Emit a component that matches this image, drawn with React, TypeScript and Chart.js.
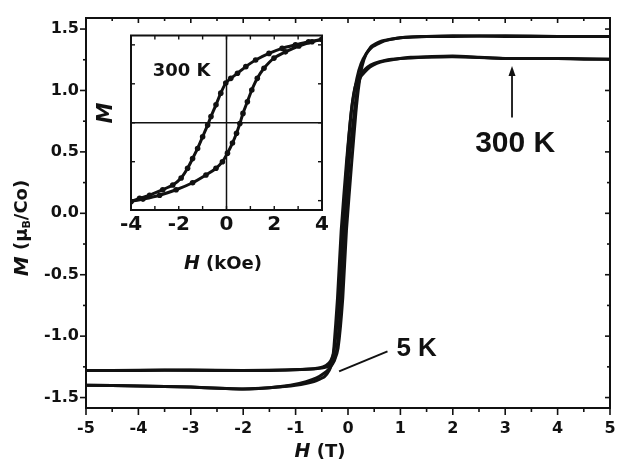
import React, { useEffect, useRef } from 'react';
import { Chart, registerables } from 'chart.js';
Chart.register(...registerables);

// ---------- main panel: H (T) vs M (μB/Co) ----------
const H_5K_DOWN = [5, 4, 3, 2, 1.4, 1.0, 0.75, 0.6, 0.45, 0.35, 0.25, 0.17, 0.07, -0.03, -0.13, -0.2, -0.27, -0.31, -0.36, -0.45, -0.65, -1.0, -1.5, -2, -2.5, -3, -4, -5];
const M_5K_DOWN = [1.44, 1.44, 1.445, 1.44, 1.44, 1.43, 1.41, 1.385, 1.35, 1.3, 1.22, 1.1, 0.85, 0.41, -0.14, -0.69, -1.1, -1.22, -1.28, -1.33, -1.37, -1.4, -1.42, -1.43, -1.425, -1.415, -1.405, -1.4];
const H_5K_UP = [-5, -4, -3, -2, -1.5, -1.1, -0.8, -0.6, -0.45, -0.35, -0.26, -0.19, -0.1, -0.03, 0.07, 0.15, 0.21, 0.27, 0.35, 0.45, 0.62, 1.0, 1.5, 2, 3, 4, 5];
const M_5K_UP = [-1.4, -1.405, -1.415, -1.43, -1.42, -1.4, -1.37, -1.34, -1.3, -1.26, -1.2, -1.1, -0.69, -0.14, 0.41, 0.82, 1.05, 1.2, 1.3, 1.36, 1.4, 1.43, 1.44, 1.445, 1.44, 1.44, 1.44];
const H_300K_DOWN = [5, 4.5, 4, 3.5, 3, 2.5, 2, 1.5, 1.2, 0.9, 0.7, 0.55, 0.42, 0.32, 0.24, 0.19, 0.12, 0.02, -0.06, -0.13, -0.21, -0.27, -0.35, -0.5, -0.8, -1.5, -2.5, -3.5, -4.5, -5];
const M_300K_DOWN = [1.255, 1.255, 1.26, 1.26, 1.26, 1.27, 1.28, 1.275, 1.27, 1.255, 1.24, 1.22, 1.19, 1.15, 1.11, 1.04, 0.82, 0.41, -0.14, -0.69, -1.1, -1.2, -1.24, -1.26, -1.27, -1.28, -1.28, -1.275, -1.28, -1.28];
const H_300K_UP = [-5, -4, -3, -2, -1.2, -0.8, -0.55, -0.42, -0.33, -0.27, -0.17, -0.1, -0.02, 0.06, 0.13, 0.2, 0.28, 0.37, 0.5, 0.7, 1.0, 1.5, 2, 3, 4, 5];
const M_300K_UP = [-1.28, -1.28, -1.275, -1.28, -1.275, -1.27, -1.26, -1.24, -1.2, -1.13, -0.69, -0.14, 0.41, 0.82, 1.02, 1.1, 1.15, 1.19, 1.22, 1.245, 1.26, 1.27, 1.275, 1.26, 1.26, 1.255];

// ---------- inset: H (kOe) vs M at 300 K ----------
const H_IN_DOWN = [4.0, 3.44, 2.89, 2.33, 1.78, 1.22, 0.81, 0.46, 0.18, -0.03, -0.24, -0.44, -0.65, -0.79, -1.0, -1.21, -1.42, -1.63, -1.9, -2.25, -2.67, -3.22, -3.64, -4.0];
const M_IN_DOWN = [1.07, 1.04, 1.0, 0.955, 0.89, 0.805, 0.72, 0.635, 0.57, 0.51, 0.38, 0.23, 0.08, -0.03, -0.18, -0.33, -0.46, -0.585, -0.71, -0.8, -0.86, -0.93, -0.97, -1.01];
const H_IN_UP = [-4.0, -3.5, -2.8, -2.11, -1.42, -0.86, -0.44, -0.17, 0.04, 0.25, 0.42, 0.56, 0.69, 0.875, 1.06, 1.29, 1.57, 1.99, 2.47, 3.03, 3.58, 4.0];
const M_IN_UP = [-1.01, -0.98, -0.93, -0.86, -0.77, -0.67, -0.585, -0.5, -0.39, -0.26, -0.135, -0.01, 0.12, 0.27, 0.42, 0.57, 0.7, 0.83, 0.91, 0.985, 1.04, 1.07];

// ---------- ticks ----------
const X_TICKS = [-5, -4, -3, -2, -1, 0, 1, 2, 3, 4, 5];
const X_MINOR = [-4.5, -3.5, -2.5, -1.5, -0.5, 0.5, 1.5, 2.5, 3.5, 4.5];
const Y_TICKS = [-1.5, -1.0, -0.5, 0.0, 0.5, 1.0, 1.5];
const Y_MINOR = [-1.25, -0.75, -0.25, 0.25, 0.75, 1.25];
const INSET_X_LABELS = [-4, -2, 0, 2, 4];
const INSET_X_MINOR = [-3, -1, 1, 3];
const INSET_Y_TICKS = [-1, -0.5, 0, 0.5, 1];

// ---------- annotations (data coordinates) ----------
const ARROW_300K = { h: 3.13, m1: 0.78, m2: 1.2 };
const LABEL_300K = { h: 3.19, m: 0.567, text: '300 K' };
const LABEL_5K = { h: 1.31, m: -1.1, text: '5 K' };
const LEADER_5K = { h1: 0.754, m1: -1.124, h2: -0.17, m2: -1.287 };
const INSET_LABEL = { h: -1.88, m: 0.66, text: '300 K' };

const INK = '#111';
const FONT = 'DejaVu Sans';

const zip = (hs: number[], ms: number[]) => hs.map((h, i) => ({ x: h, y: ms[i] }));

function drawRich(ctx: CanvasRenderingContext2D, parts: { text: string; font: string; dy?: number }[], cx: number, cy: number, rot: number) {
  ctx.save();
  ctx.translate(cx, cy);
  ctx.rotate(rot);
  let total = 0;
  parts.forEach((p) => { ctx.font = p.font; total += ctx.measureText(p.text).width; });
  let x = -total / 2;
  ctx.textBaseline = 'middle';
  ctx.textAlign = 'left';
  ctx.fillStyle = INK;
  parts.forEach((p) => {
    ctx.font = p.font;
    ctx.fillText(p.text, x, p.dy || 0);
    x += ctx.measureText(p.text).width;
  });
  ctx.restore();
}

const mainDecor = {
  id: 'mainDecor',
  afterDatasetsDraw(chart: any) {
    const { ctx, chartArea: a, scales } = chart;
    const xs = scales.x, ys = scales.y;
    ctx.save();
    ctx.strokeStyle = INK;
    ctx.fillStyle = INK;
    ctx.lineWidth = 2;
    ctx.strokeRect(a.left, a.top, a.right - a.left, a.bottom - a.top);
    const seg = (x1: number, y1: number, x2: number, y2: number) => {
      ctx.beginPath(); ctx.moveTo(x1, y1); ctx.lineTo(x2, y2); ctx.stroke();
    };
    ctx.lineWidth = 1.6;
    X_TICKS.forEach((v) => { const p = xs.getPixelForValue(v); seg(p, a.bottom, p, a.bottom + 7); seg(p, a.top, p, a.top + 5); });
    X_MINOR.forEach((v) => { const p = xs.getPixelForValue(v); seg(p, a.bottom, p, a.bottom + 4); seg(p, a.top, p, a.top + 3); });
    Y_TICKS.forEach((v) => { const p = ys.getPixelForValue(v); seg(a.left - 6, p, a.left, p); seg(a.right - 5, p, a.right, p); });
    Y_MINOR.forEach((v) => { const p = ys.getPixelForValue(v); seg(a.left - 3, p, a.left, p); seg(a.right - 3, p, a.right, p); });

    // arrow to 300 K curve
    const ax = xs.getPixelForValue(ARROW_300K.h);
    const ay1 = ys.getPixelForValue(ARROW_300K.m1);
    const ay2 = ys.getPixelForValue(ARROW_300K.m2);
    ctx.lineWidth = 1.8;
    seg(ax, ay1, ax, ay2 + 6);
    ctx.beginPath();
    ctx.moveTo(ax, ay2); ctx.lineTo(ax - 3.5, ay2 + 10); ctx.lineTo(ax + 3.5, ay2 + 10); ctx.closePath(); ctx.fill();

    // leader line for 5 K
    ctx.lineWidth = 2;
    seg(xs.getPixelForValue(LEADER_5K.h1), ys.getPixelForValue(LEADER_5K.m1), xs.getPixelForValue(LEADER_5K.h2), ys.getPixelForValue(LEADER_5K.m2));

    ctx.textAlign = 'center';
    ctx.textBaseline = 'middle';
    ctx.font = 'bold 30px "Liberation Sans"';
    ctx.fillText(LABEL_300K.text, xs.getPixelForValue(LABEL_300K.h), ys.getPixelForValue(LABEL_300K.m));
    ctx.font = 'bold 26px "Liberation Sans"';
    ctx.fillText(LABEL_5K.text, xs.getPixelForValue(LABEL_5K.h), ys.getPixelForValue(LABEL_5K.m));
    ctx.restore();

    // axis titles
    drawRich(ctx, [
      { text: 'H', font: `italic bold 19px "${FONT}"` },
      { text: ' (T)', font: `bold 18px "${FONT}"` },
    ], 320, 452, 0);
    drawRich(ctx, [
      { text: 'M', font: `italic bold 20px "${FONT}"` },
      { text: ' (μ', font: `bold 18px "${FONT}"` },
      { text: 'B', font: `bold 11px "${FONT}"`, dy: 5 },
      { text: '/Co)', font: `bold 18px "${FONT}"` },
    ], 22.5, 228, -Math.PI / 2);
  },
};

const insetDecor = {
  id: 'insetDecor',
  afterDatasetsDraw(chart: any) {
    const { ctx, chartArea: a, scales } = chart;
    const xs = scales.x, ys = scales.y;
    ctx.save();
    ctx.strokeStyle = INK;
    ctx.fillStyle = INK;
    const seg = (x1: number, y1: number, x2: number, y2: number) => {
      ctx.beginPath(); ctx.moveTo(x1, y1); ctx.lineTo(x2, y2); ctx.stroke();
    };
    ctx.lineWidth = 1.5;
    const x0 = xs.getPixelForValue(0);
    const y0 = ys.getPixelForValue(0);
    seg(x0, a.top, x0, a.bottom);
    seg(a.left, y0, a.right, y0);
    ctx.lineWidth = 2;
    ctx.strokeRect(a.left, a.top, a.right - a.left, a.bottom - a.top);
    ctx.lineWidth = 1.4;
    [...INSET_X_LABELS, ...INSET_X_MINOR].forEach((v) => {
      const p = xs.getPixelForValue(v);
      seg(p, a.bottom, p, a.bottom - 4); seg(p, a.top, p, a.top + 4);
    });
    INSET_Y_TICKS.forEach((v) => {
      const p = ys.getPixelForValue(v);
      seg(a.left, p, a.left + 4, p); seg(a.right, p, a.right - 4, p);
    });
    ctx.textAlign = 'center';
    ctx.textBaseline = 'middle';
    ctx.font = `bold 18px "${FONT}"`;
    ctx.fillText(INSET_LABEL.text, xs.getPixelForValue(INSET_LABEL.h), ys.getPixelForValue(INSET_LABEL.m));
    ctx.restore();

    drawRich(ctx, [
      { text: 'H', font: `italic bold 19px "${FONT}"` },
      { text: ' (kOe)', font: `bold 18px "${FONT}"` },
    ], a.left + 92, a.bottom + 54, 0);
    drawRich(ctx, [
      { text: 'M', font: `italic bold 21px "${FONT}"` },
    ], a.left - 24, a.top + 77.5, -Math.PI / 2);
  },
};

const lineStyle = {
  showLine: true,
  borderColor: INK,
  borderWidth: 3,
  pointRadius: 0,
  fill: false,
  tension: 0.15,
};

export default function App() {
  const mainRef = useRef<HTMLCanvasElement>(null);
  const insetRef = useRef<HTMLCanvasElement>(null);

  useEffect(() => {
    const main = new Chart(mainRef.current as HTMLCanvasElement, {
      type: 'scatter',
      data: {
        datasets: [
          { ...lineStyle, data: zip(H_5K_DOWN, M_5K_DOWN) },
          { ...lineStyle, data: zip(H_5K_UP, M_5K_UP) },
          { ...lineStyle, data: zip(H_300K_DOWN, M_300K_DOWN) },
          { ...lineStyle, data: zip(H_300K_UP, M_300K_UP) },
        ] as any,
      },
      options: {
        animation: false,
        responsive: false,
        maintainAspectRatio: false,
        layout: { padding: { top: 18, right: 7, left: 0, bottom: 0 } },
        plugins: { legend: { display: false }, tooltip: { enabled: false } },
        scales: {
          x: {
            type: 'linear',
            min: -5,
            max: 5,
            afterBuildTicks: (s: any) => { s.ticks = X_TICKS.map((v) => ({ value: v })); },
            afterFit: (s: any) => { s.height = 57; s.paddingLeft = 0; s.paddingRight = 0; },
            grid: { display: false, drawTicks: false },
            border: { display: false },
            ticks: {
              autoSkip: false,
              maxRotation: 0,
              padding: 11,
              color: INK,
              font: { family: FONT, weight: 'bold', size: 16 },
              callback: (v: any) => String(v),
            },
          },
          y: {
            type: 'linear',
            min: -1.585,
            max: 1.59,
            afterBuildTicks: (s: any) => { s.ticks = Y_TICKS.map((v) => ({ value: v })); },
            afterFit: (s: any) => { s.width = 86; s.paddingTop = 0; s.paddingBottom = 0; },
            grid: { display: false, drawTicks: false },
            border: { display: false },
            ticks: {
              autoSkip: false,
              padding: 7,
              color: INK,
              font: { family: FONT, weight: 'bold', size: 16 },
              callback: (v: any) => Number(v).toFixed(1),
            },
          },
        },
      } as any,
      plugins: [mainDecor],
    });

    const insetStyle = { ...lineStyle, borderWidth: 3, pointRadius: 2.8, pointBackgroundColor: INK, pointBorderWidth: 0, tension: 0.2 };
    const inset = new Chart(insetRef.current as HTMLCanvasElement, {
      type: 'scatter',
      data: {
        datasets: [
          { ...insetStyle, data: zip(H_IN_DOWN, M_IN_DOWN) },
          { ...insetStyle, data: zip(H_IN_UP, M_IN_UP) },
        ] as any,
      },
      options: {
        animation: false,
        responsive: false,
        maintainAspectRatio: false,
        layout: { padding: { top: 7.5, right: 18, left: 41, bottom: 0 } },
        plugins: { legend: { display: false }, tooltip: { enabled: false } },
        scales: {
          x: {
            type: 'linear',
            min: -4,
            max: 4,
            afterBuildTicks: (s: any) => { s.ticks = INSET_X_LABELS.map((v) => ({ value: v })); },
            afterFit: (s: any) => { s.height = 78; s.paddingLeft = 0; s.paddingRight = 0; },
            grid: { display: false, drawTicks: false },
            border: { display: false },
            ticks: {
              autoSkip: false,
              maxRotation: 0,
              padding: 3,
              color: INK,
              font: { family: FONT, weight: 'bold', size: 20 },
              callback: (v: any) => String(v),
            },
          },
          y: { type: 'linear', display: false, min: -1.12, max: 1.12 },
        },
      } as any,
      plugins: [insetDecor],
    });

    return () => { main.destroy(); inset.destroy(); };
  }, []);

  return (
    <div style={{ position: 'fixed', left: 0, top: 0, width: 617, height: 465, background: '#fff' }}>
      <canvas ref={mainRef} width={617} height={465} style={{ position: 'absolute', left: 0, top: 0, width: 617, height: 465 }} />
      <canvas ref={insetRef} width={250} height={260} style={{ position: 'absolute', left: 90, top: 28, width: 250, height: 260 }} />
    </div>
  );
}
